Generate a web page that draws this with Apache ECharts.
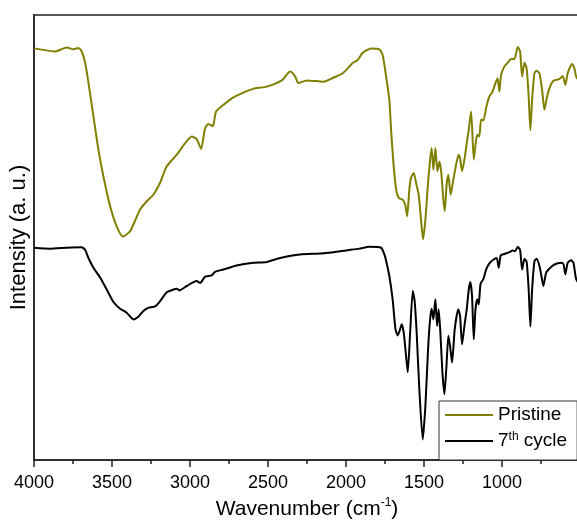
<!DOCTYPE html>
<html>
<head>
<meta charset="utf-8">
<script src="https://cdn.jsdelivr.net/npm/echarts@6/dist/echarts.min.js"></script>
<style>
html,body{margin:0;padding:0;background:#fff;}
#chart{width:577px;height:523px;}
</style>
</head>
<body>
<div id="chart"></div>
<script>
// Wavenumber (cm-1) and intensity (a.u.)
const pristineWn = [4000,3865,3790,3747,3715,3694,3672,3651,3619,3587,3555,3512,3470,3431,3384,3320,3278,3235,3192,3149,3085,3031,2989,2957,2929,2903,2882,2854,2833,2786,2722,2669,2594,2508,2412,2358,2326,2305,2252,2145,2081,2021,1957,1925,1893,1839,1786,1765,1743,1722,1711,1696,1679,1662,1637,1621,1608,1594,1583,1566,1551,1534,1519,1506,1491,1476,1461,1451,1440,1427,1414,1401,1389,1376,1367,1355,1344,1329,1312,1290,1278,1269,1256,1239,1226,1213,1198,1181,1166,1156,1145,1134,1119,1102,1081,1063,1042,1028,1017,1006,985,963,942,920,899,884,871,856,842,829,818,807,792,778,760,743,728,711,692,671,632,611,594,579,551,536,525,505];
const pristineI = [92.5,91.8,92.7,92.3,92.6,91.8,89.2,84.8,77.2,69.7,63.7,57.0,52.5,50.2,51.4,56.3,58.1,59.6,62.3,66.0,68.6,71.2,72.7,72.1,69.9,74.6,75.5,75.0,78.3,79.8,81.5,82.4,83.4,83.9,85.3,87.3,86.2,84.7,85.3,85.0,85.9,86.9,89.2,89.9,91.5,92.5,92.3,91.0,86.2,80.9,74.2,66.7,60.8,58.9,58.5,57.4,54.8,60.8,63.4,64.5,62.3,59.6,54.0,49.6,54.0,61.5,67.5,70.1,65.2,70.1,64.9,67.1,64.5,58.5,55.9,61.9,64.1,59.6,63.0,67.1,68.6,67.9,64.9,67.9,71.2,74.2,78.3,67.5,72.0,73.1,72.7,76.5,76.3,79.1,81.7,82.6,84.7,85.8,82.8,86.5,88.4,89.3,90.1,90.1,92.8,91.8,86.2,89.3,88.0,81.7,74.1,80.9,86.9,87.5,86.9,83.2,78.7,81.7,83.9,85.2,85.6,86.3,84.3,86.9,89.0,88.0,86.2,85.0];
const cycleWn = [4000,3897,3790,3694,3672,3651,3619,3576,3534,3491,3448,3406,3363,3331,3299,3267,3224,3192,3149,3106,3085,3068,3021,2957,2935,2903,2861,2839,2786,2701,2594,2508,2422,2294,2166,2081,2000,1914,1850,1775,1754,1747,1722,1701,1683,1669,1653,1643,1630,1615,1604,1589,1572,1560,1547,1530,1508,1491,1474,1461,1451,1440,1427,1416,1406,1395,1382,1369,1356,1344,1333,1320,1303,1280,1269,1256,1241,1226,1213,1203,1192,1181,1170,1158,1149,1138,1119,1102,1081,1060,1034,1021,1008,985,953,931,916,899,884,871,856,842,829,818,807,792,778,760,747,735,717,696,675,643,615,605,594,579,557,542,525,505];
const cycleI = [47.7,47.5,47.7,47.8,47.2,45.4,43.2,41.0,38.3,35.5,34.0,33.1,31.6,32.2,33.5,34.2,34.5,35.7,37.7,38.3,38.5,38.1,39.1,40.2,39.8,41.2,41.5,42.3,42.8,43.7,44.3,44.5,45.4,46.2,46.4,46.7,47.1,47.5,47.9,47.7,46.2,45.4,41.3,36.1,29.4,28.0,29.4,30.5,28.6,23.4,19.7,28.6,38.0,35.7,28.6,15.9,4.6,12.2,24.9,31.6,34.0,31.6,36.1,30.1,33.9,28.6,19.7,14.8,21.1,27.9,25.6,21.9,29.4,33.9,32.4,26.0,30.1,33.9,38.3,40.0,36.8,27.1,33.9,36.1,35.0,39.5,40.7,42.8,44.2,44.9,45.4,43.2,46.0,46.3,46.7,47.1,46.9,47.9,47.2,42.8,45.2,44.5,38.3,30.0,38.3,44.7,45.2,43.6,41.3,39.1,42.1,43.0,43.7,44.2,44.3,43.9,41.7,44.3,44.9,44.3,40.7,39.5];
const seriesNames = ['Pristine', '7th cycle'];
const xTicks = [500, 4000, 500]; // min, max, interval

function zip(a, b) { return a.map((v, i) => [v, b[i]]); }

const chart = echarts.init(document.getElementById('chart'), null, {renderer: 'canvas'});
const FONT = '"Liberation Sans", Arial, sans-serif';
chart.setOption({
  animation: false,
  backgroundColor: '#fff',
  grid: {
    left: 34, right: -3, top: 15, bottom: 63,
    show: true, borderColor: '#222', borderWidth: 1.5,
    outerBoundsMode: 'none'
  },
  legend: {
    orient: 'vertical',
    left: 439, top: 401,
    padding: [4, 10, 9, 6],
    itemGap: 6,
    itemWidth: 48, itemHeight: 2,
    icon: 'rect',
    borderColor: '#333', borderWidth: 1,
    backgroundColor: '#fff',
    data: seriesNames,
    formatter: function (name) {
      return name === '7th cycle' ? '7{sup|th} cycle' : name;
    },
    textStyle: {
      fontFamily: FONT, fontSize: 19, color: '#000', lineHeight: 20,
      rich: { sup: { fontFamily: FONT, fontSize: 12, color: '#000', verticalAlign: 'top', lineHeight: 20 } }
    }
  },
  xAxis: {
    type: 'value',
    min: xTicks[0], max: xTicks[1], interval: xTicks[2],
    inverse: true,
    name: 'Wavenumber (cm{sup|-1})',
    nameLocation: 'middle',
    nameGap: 34,
    nameTextStyle: {
      fontFamily: FONT, fontSize: 21, color: '#000', lineHeight: 24,
      rich: { sup: { fontFamily: FONT, fontSize: 12, color: '#000', verticalAlign: 'top', lineHeight: 24 } }
    },
    axisLine: { show: true, lineStyle: { color: '#222', width: 1.5 } },
    axisTick: { show: true, inside: false, length: 7, lineStyle: { color: '#222', width: 1.5 } },
    minorTick: { show: true, splitNumber: 2, length: 4, lineStyle: { color: '#222', width: 1.5 } },
    splitLine: { show: false },
    minorSplitLine: { show: false },
    axisLabel: {
      fontFamily: FONT, fontSize: 18, color: '#000', margin: 14,
      formatter: function (v) { return v === xTicks[0] ? '' : String(v); }
    }
  },
  yAxis: {
    type: 'value', min: 0, max: 100,
    name: 'Intensity (a. u.)',
    nameLocation: 'middle',
    nameGap: 4,
    nameTextStyle: { fontFamily: FONT, fontSize: 22, color: '#000' },
    axisLine: { show: true, lineStyle: { color: '#222', width: 1.5 } },
    axisTick: { show: false },
    axisLabel: { show: false },
    splitLine: { show: false }
  },
  series: [
    {
      name: seriesNames[0], type: 'line', data: zip(pristineWn, pristineI),
      symbol: 'none', smooth: 0.2, color: '#808000',
      lineStyle: { color: '#808000', width: 2 }
    },
    {
      name: seriesNames[1], type: 'line', data: zip(cycleWn, cycleI),
      symbol: 'none', smooth: 0.2, color: '#000',
      lineStyle: { color: '#000', width: 2 }
    }
  ]
});
</script>
</body>
</html>
